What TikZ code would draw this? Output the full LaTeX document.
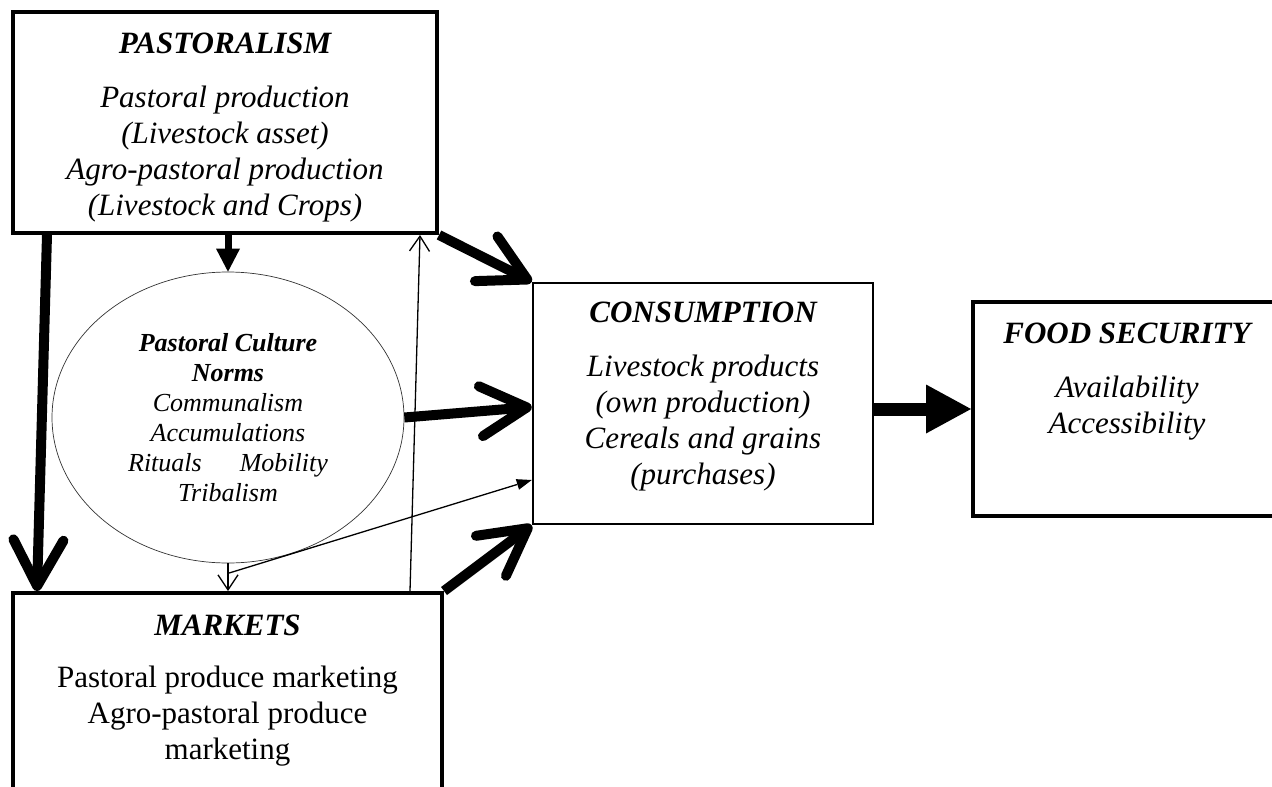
\documentclass[tikz,border=0pt]{standalone}
\usepackage{fontspec}
\setmainfont{Liberation Serif}
\usetikzlibrary{arrows.meta,positioning,shapes.geometric}

\tikzset{
  box/.style={draw, rectangle, line width=4pt, inner sep=0pt},
  txt/.style={align=center, inner sep=0pt, font=\itshape\fontsize{31}{36}\selectfont},
  fat/.style={line width=10pt, -{Straight Barb[length=46pt, width=50pt, round]}},
  thin/.style={line width=1.3pt, -{Straight Barb[length=15pt, width=20pt]}},
}

\begin{document}
\begin{tikzpicture}[x=1pt, y=-1pt]
\clip (0,0) rectangle (1272,787);

% boxes
\node[box, minimum width=424pt, minimum height=221pt] (pastoral) at (225,122.5) {};
\node[box, line width=2.5pt, minimum width=340pt, minimum height=241pt] (cons) at (703,403.5) {};
\node[box, minimum width=308pt, minimum height=214pt] (food) at (1127,409) {};
\node[box, minimum width=429pt, minimum height=207pt] (markets) at (227.5,696.5) {};

\node[draw=black!80, ellipse, line width=0.7pt, minimum width=352pt, minimum height=291pt,
  inner sep=0pt, align=center, font=\itshape\fontsize{26}{30}\selectfont] (ell) at (228,417.5)
  {\textbf{Pastoral Culture}\\ \textbf{Norms}\\ Communalism\\ Accumulations\\
   Rituals\hspace{38pt}Mobility\\ Tribalism};

% texts
\node[txt, below=23pt of pastoral.north] (pastoral-txt)
  {\textbf{PASTORALISM}\\[18pt] Pastoral production\\ (Livestock asset)\\
   Agro-pastoral production\\ (Livestock and Crops)};
\node[txt, below=20pt of cons.north] (cons-txt)
  {\textbf{CONSUMPTION}\\[18pt] Livestock products\\ (own production)\\
   Cereals and grains\\ (purchases)};
\node[txt, below=23pt of food.north] (food-txt)
  {\textbf{FOOD SECURITY}\\[18pt] Availability\\ Accessibility};
\node[txt, below=24pt of markets.north] (markets-txt)
  {\textbf{MARKETS}\\[16pt] \textup{Pastoral produce marketing}\\
   \textup{Agro-pastoral produce}\\ \textup{marketing}};

% arrows
\draw[fat] ([xshift=36pt]pastoral.south west) -- ([xshift=26pt]markets.north west);
\draw[fat] (pastoral.south east) -- (cons.north west);
\draw[fat] (ell.east) -- ([yshift=-3.5pt]cons.west);
\draw[fat] (markets.north east) -- (cons.south west);
\draw[line width=13pt, -{Triangle[length=45pt, width=49pt, line width=0pt]}] (food.west -| cons.east) -- (food.west);
\draw[line width=7pt, -{Triangle[length=23pt, width=24pt, line width=0pt]}] (ell.north |- pastoral.south) -- (ell.north);
\draw[thin] ([xshift=182.5pt]markets.north) -- ([xshift=195pt]pastoral.south);
\draw[thin] (ell.south) -- (ell.south |- markets.north);
\coordinate (fork) at ([yshift=-10pt]ell.south);
\draw[line width=1.3pt, -{Triangle[length=15pt, width=11pt, line width=0pt]}] (fork) -- ([yshift=-76.5pt]cons.west);
\end{tikzpicture}
\end{document}
